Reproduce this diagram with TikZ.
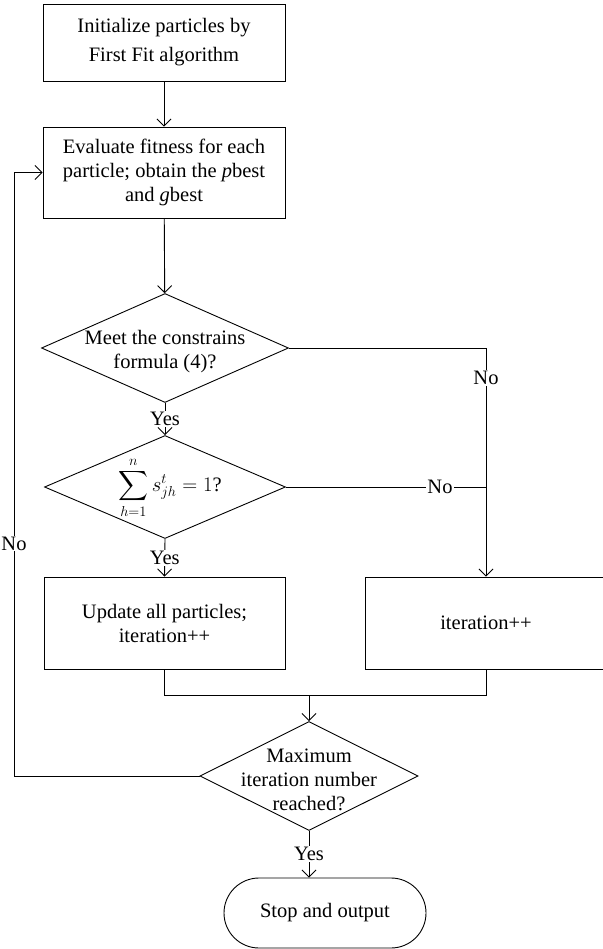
\documentclass[tikz,border=0pt]{standalone}
\usepackage{exscale}
\usepackage{fontspec}
\setmainfont{Liberation Serif}
\usepackage{tikz}
\usetikzlibrary{shapes.geometric,arrows.meta,positioning,calc}

\begin{document}
\begin{tikzpicture}[x=1pt,y=-1pt,line width=0.9pt,
    >={Straight Barb[length=7pt,width=14pt]},
    every node/.style={font=\fontsize{20.5}{24}\selectfont},
    procbox/.style={draw,rectangle,align=center,inner sep=0pt},
    decision/.style={draw,diamond,inner sep=0pt},
    lbl/.style={fill=white,inner sep=1pt}]
  \useasboundingbox (0,0) rectangle (602,949);

  \node[procbox,minimum width=242pt,minimum height=77pt] (init) at (164,42.5)
        {Initialize particles by\\[5pt]First Fit algorithm};
  \node[procbox,minimum width=242pt,minimum height=91pt] (eval) at (164,172.5)
        {Evaluate fitness for each\\particle; obtain the \textit{p}best\\and \textit{g}best};

  \node[decision,minimum width=247pt,minimum height=109pt] (cons) at (165,348) {};
  \node[align=center] (constxt) at (165,352) {Meet the constrains\\formula (4)?};
  \node[decision,minimum width=241pt,minimum height=103pt] (sum) at (165,487) {};
  \node (sumtxt) at (170,488) {$\displaystyle\sum_{h=1}^{n} s_{jh}^{t} = 1$?};

  \node[procbox,minimum width=241pt,minimum height=92pt] (update) at (164.5,623)
        {Update all particles;\\iteration++};
  \node[procbox,minimum width=242pt,minimum height=92pt] (iter) at (486,623) {iteration++};

  \node[decision,minimum width=218pt,minimum height=109pt] (maxit) at (309,776) {};
  \node[align=center] (maxtxt) at (309,780) {Maximum\\iteration number\\reached?};
  \node[draw,rectangle,rounded corners=35pt,minimum width=202pt,minimum height=70pt]
        (stop) at (325,913) {Stop and output};

  \coordinate (c1) at (iter.north |- cons.east);
  \coordinate (c2) at (iter.north |- sum.east);
  \coordinate (join) at (309,695);
  \coordinate (fb) at (14,776);

  \draw[->] (init) -- (eval);
  \draw[->] (eval) -- (cons);
  \draw[->] (cons.east) -- (c1) -- node[lbl,pos=0.13]{No} (iter.north);
  \draw[->] (cons.south) -- node[lbl]{Yes} (sum.north);
  \draw (sum.east) -- node[lbl,pos=0.77]{No} (c2);
  \draw[->] (sum.south) -- node[lbl]{Yes} (update.north);
  \draw (update.south) -- ++(0,26) -| (iter.south);
  \draw[->] (join) -- (maxit.north);
  \draw[->] (maxit.west) -- (fb) -- node[lbl,pos=0.385]{No} (fb |- eval.west) -- (eval.west);
  \draw[->] (maxit.south) -- node[lbl]{Yes} (maxit.south |- stop.north);
\end{tikzpicture}
\end{document}
